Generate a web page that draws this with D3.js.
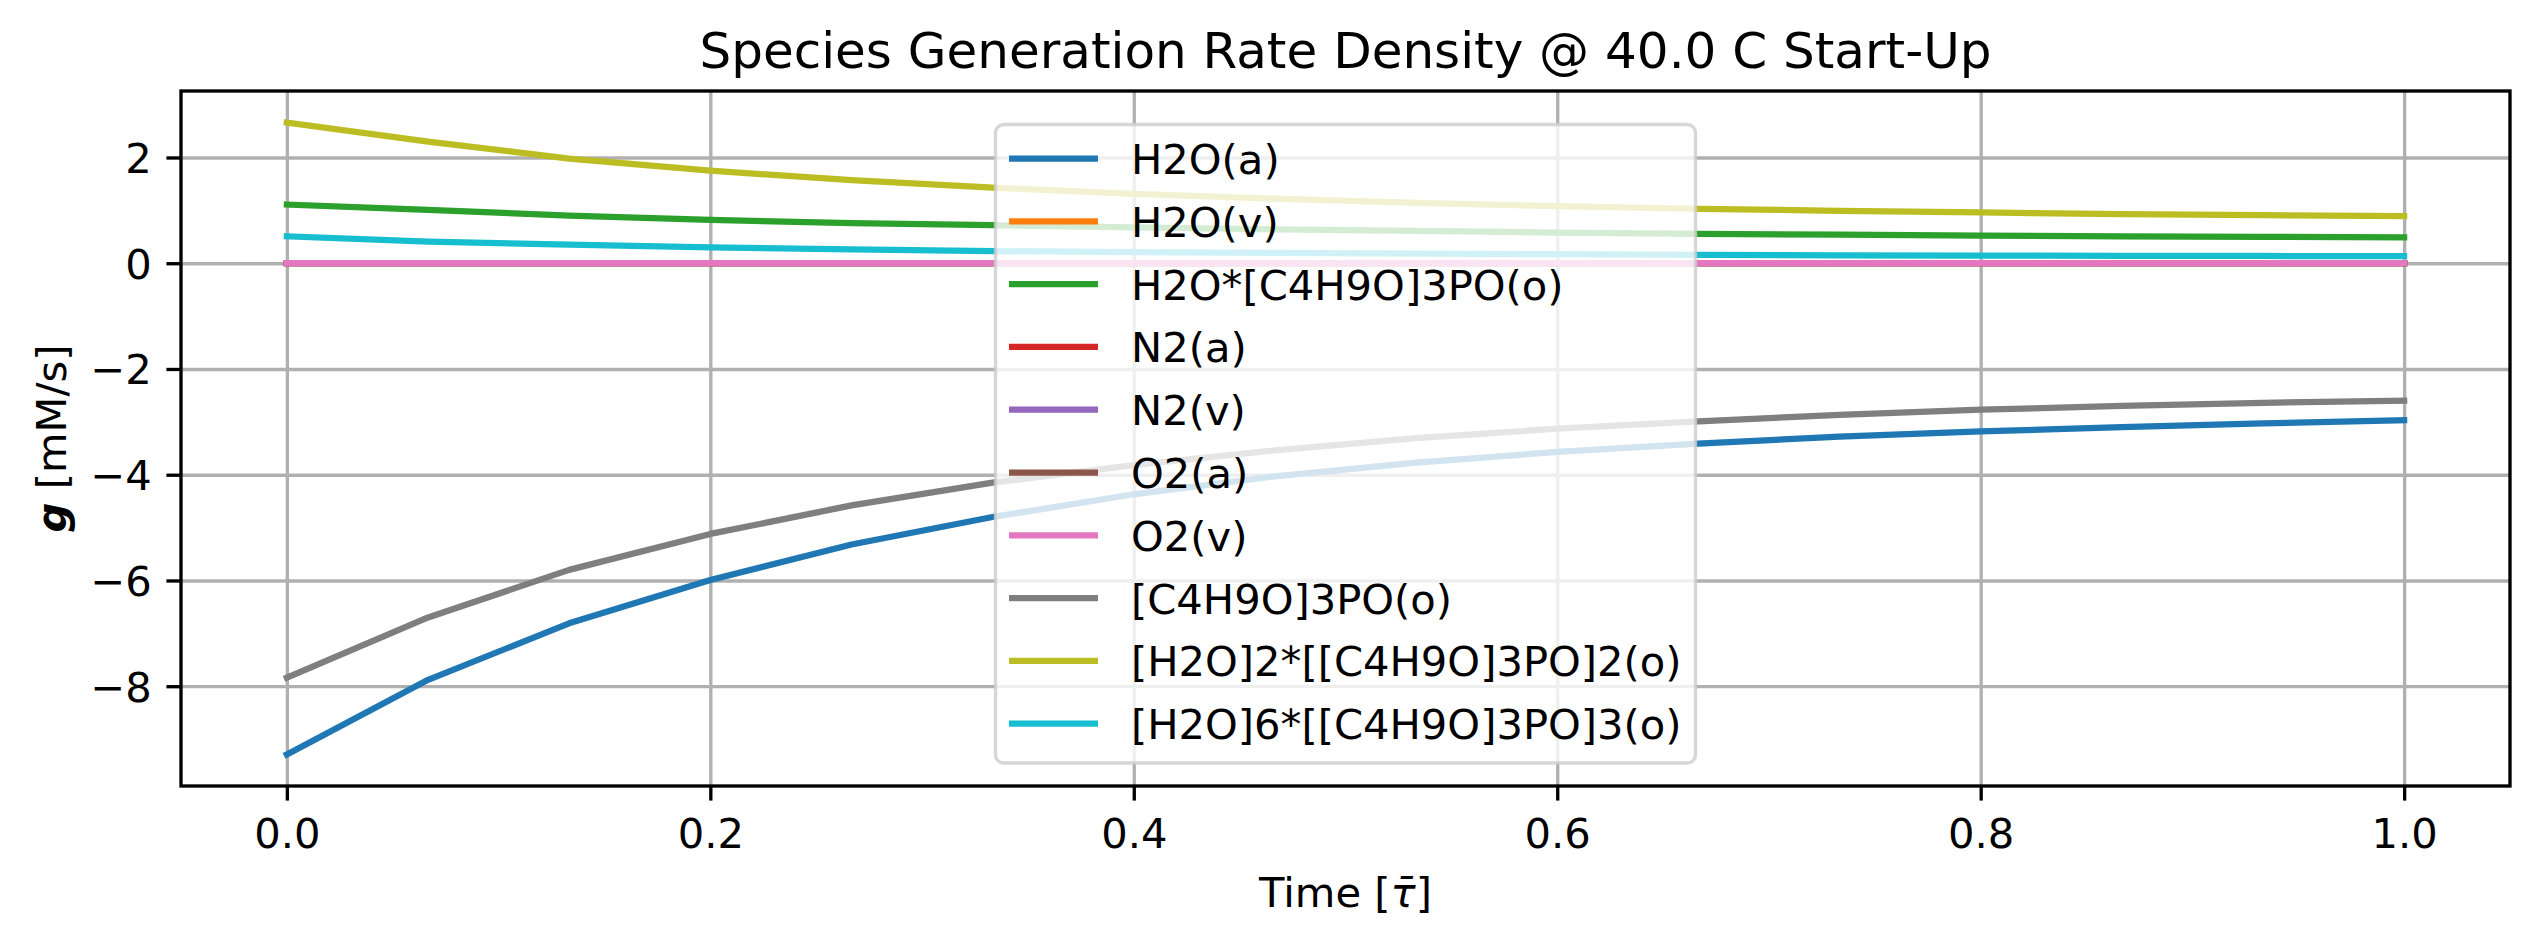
<!DOCTYPE html>
<html>
<head>
<meta charset="utf-8">
<script src="https://cdn.jsdelivr.net/npm/d3@7/dist/d3.min.js"></script>
<style>
body { margin: 0; background: #fff; }
text { font-family: "DejaVu Sans", sans-serif; fill: #000; }
</style>
</head>
<body>
<svg id="chart" width="2538" height="945"></svg>
<script>
// time points (dimensionless)
var times = [0, 0.0667, 0.1333, 0.2, 0.2667, 0.3333, 0.4, 0.4667, 0.5333, 0.6, 0.6667, 0.7333, 0.8, 0.8667, 0.9333, 1.0];

// generation rate density, mM/s
var h2oA = [-9.29, -7.88, -6.81, -5.99, -5.32, -4.80, -4.37, -4.03, -3.77, -3.57, -3.41, -3.28, -3.18, -3.10, -3.03, -2.97];
var h2oV = [0, 0, 0, 0, 0, 0, 0, 0, 0, 0, 0, 0, 0, 0, 0, 0];
var h2oTbp = [1.11, 1.01, 0.90, 0.82, 0.76, 0.72, 0.68, 0.64, 0.61, 0.58, 0.555, 0.54, 0.52, 0.51, 0.50, 0.49];
var n2A = [0, 0, 0, 0, 0, 0, 0, 0, 0, 0, 0, 0, 0, 0, 0, 0];
var n2V = [0, 0, 0, 0, 0, 0, 0, 0, 0, 0, 0, 0, 0, 0, 0, 0];
var o2A = [0, 0, 0, 0, 0, 0, 0, 0, 0, 0, 0, 0, 0, 0, 0, 0];
var o2V = [0, 0, 0, 0, 0, 0, 0, 0, 0, 0, 0, 0, 0, 0, 0, 0];
var tbp = [-7.84, -6.70, -5.80, -5.12, -4.58, -4.15, -3.82, -3.54, -3.31, -3.13, -2.99, -2.87, -2.77, -2.70, -2.64, -2.60];
var dimer = [2.66, 2.30, 1.98, 1.75, 1.57, 1.43, 1.31, 1.22, 1.14, 1.08, 1.03, 0.99, 0.96, 0.93, 0.91, 0.89];
var trimer = [0.51, 0.41, 0.35, 0.30, 0.26, 0.23, 0.21, 0.195, 0.18, 0.17, 0.16, 0.15, 0.145, 0.14, 0.137, 0.135];

var names = ["H2O(a)", "H2O(v)", "H2O*[C4H9O]3PO(o)", "N2(a)", "N2(v)", "O2(a)", "O2(v)",
  "[C4H9O]3PO(o)", "[H2O]2*[[C4H9O]3PO]2(o)", "[H2O]6*[[C4H9O]3PO]3(o)"];
var series = [h2oA, h2oV, h2oTbp, n2A, n2V, o2A, o2V, tbp, dimer, trimer];
var colors = ["#1f77b4", "#ff7f0e", "#2ca02c", "#d62728", "#9467bd", "#8c564b", "#e377c2", "#7f7f7f", "#bcbd22", "#17becf"];

var xTicks = [0, 0.2, 0.4, 0.6, 0.8, 1.0];
var yTicks = [-8, -6, -4, -2, 0, 2];

var svg = d3.select('#chart');
var margin = {top: 91, right: 28, bottom: 159, left: 181},
  width = 2538 - margin.left - margin.right,
  height = 945 - margin.top - margin.bottom;
var pt = 300 / 72; // px per point
var fs = 10 * pt;

var g = svg.append('g').attr('transform', 'translate(' + margin.left + ',' + margin.top + ')');

var x = d3.scaleLinear().domain([-0.05, 1.05]).range([0, width]);
var allVals = d3.merge(series);
var ymin = d3.min(allVals), ymax = d3.max(allVals);
var pad = (ymax - ymin) * 0.05;
var y = d3.scaleLinear().domain([ymin - pad, ymax + pad]).range([height, 0]);

// grid
var gx = g.append('g').attr('transform', 'translate(0,' + height + ')')
  .call(d3.axisBottom(x).tickValues(xTicks).tickSize(-height).tickFormat(''));
var gy = g.append('g')
  .call(d3.axisLeft(y).tickValues(yTicks).tickSize(-width).tickFormat(''));
[gx, gy].forEach(function(a) {
  a.select('.domain').remove();
  a.selectAll('line').attr('stroke', '#b0b0b0').attr('stroke-width', 0.8 * pt);
});

// lines
var line = d3.line()
  .x(function(d, i) { return x(times[i]); })
  .y(function(d) { return y(d); });

series.forEach(function(s, i) {
  g.append('path')
    .datum(s)
    .attr('fill', 'none')
    .attr('stroke', colors[i])
    .attr('stroke-width', 1.5 * pt)
    .attr('stroke-linejoin', 'round')
    .attr('stroke-linecap', 'square')
    .attr('d', line);
});

// axes
var xAxis = g.append('g').attr('transform', 'translate(0,' + height + ')')
  .call(d3.axisBottom(x).tickValues(xTicks).tickSize(3.5 * pt).tickPadding(18).tickFormat(d3.format('.1f')));
var yAxis = g.append('g')
  .call(d3.axisLeft(y).tickValues(yTicks).tickSize(3.5 * pt).tickPadding(3.5 * pt).tickFormat(d3.format('d')));
[xAxis, yAxis].forEach(function(a) {
  a.select('.domain').remove();
  a.selectAll('line').attr('stroke', '#000').attr('stroke-width', 0.8 * pt);
  a.selectAll('text').attr('font-size', fs).attr('font-family', 'DejaVu Sans').attr('fill', '#000');
});
yAxis.selectAll('text').attr('dy', '0.36em');
xAxis.selectAll('text').attr('dy', '0.71em');

g.append('rect')
  .attr('width', width).attr('height', height)
  .attr('fill', 'none').attr('stroke', '#000').attr('stroke-width', 0.8 * pt);

// title and labels
svg.append('text')
  .attr('x', margin.left + width / 2).attr('y', 68)
  .attr('text-anchor', 'middle').attr('font-size', 12 * pt)
  .text('Species Generation Rate Density @ 40.0 C Start-Up');

var xl = svg.append('text')
  .attr('x', margin.left + width / 2).attr('y', 907)
  .attr('text-anchor', 'middle').attr('font-size', fs);
xl.append('tspan').text('Time [');
xl.append('tspan').attr('font-style', 'italic').text('\u03c4\u0304');
xl.append('tspan').text(']');

var yl = svg.append('text')
  .attr('transform', 'translate(66,' + (margin.top + height / 2) + ') rotate(-90)')
  .attr('text-anchor', 'middle').attr('font-size', fs);
yl.append('tspan').attr('font-weight', 'bold').attr('font-style', 'italic').text('g');
yl.append('tspan').text(' [mM/s]');

// legend
var leg = svg.append('g').attr('transform', 'translate(995.5,124.5)');
leg.append('rect')
  .attr('width', 700).attr('height', 638.5)
  .attr('rx', 0.2 * fs).attr('ry', 0.2 * fs)
  .attr('fill', '#fff').attr('fill-opacity', 0.8)
  .attr('stroke', '#cccccc').attr('stroke-opacity', 0.8)
  .attr('stroke-width', 0.8 * pt);

names.forEach(function(n, i) {
  var ly = 34 + i * 62.8;
  leg.append('line')
    .attr('x1', 13.5).attr('x2', 102.5)
    .attr('y1', ly).attr('y2', ly)
    .attr('stroke', colors[i]).attr('stroke-width', 1.5 * pt)
    .attr('stroke-linecap', 'butt');
  leg.append('text')
    .attr('x', 135.5).attr('y', ly + 15.5)
    .attr('font-size', fs)
    .text(n);
});
</script>
</body>
</html>
